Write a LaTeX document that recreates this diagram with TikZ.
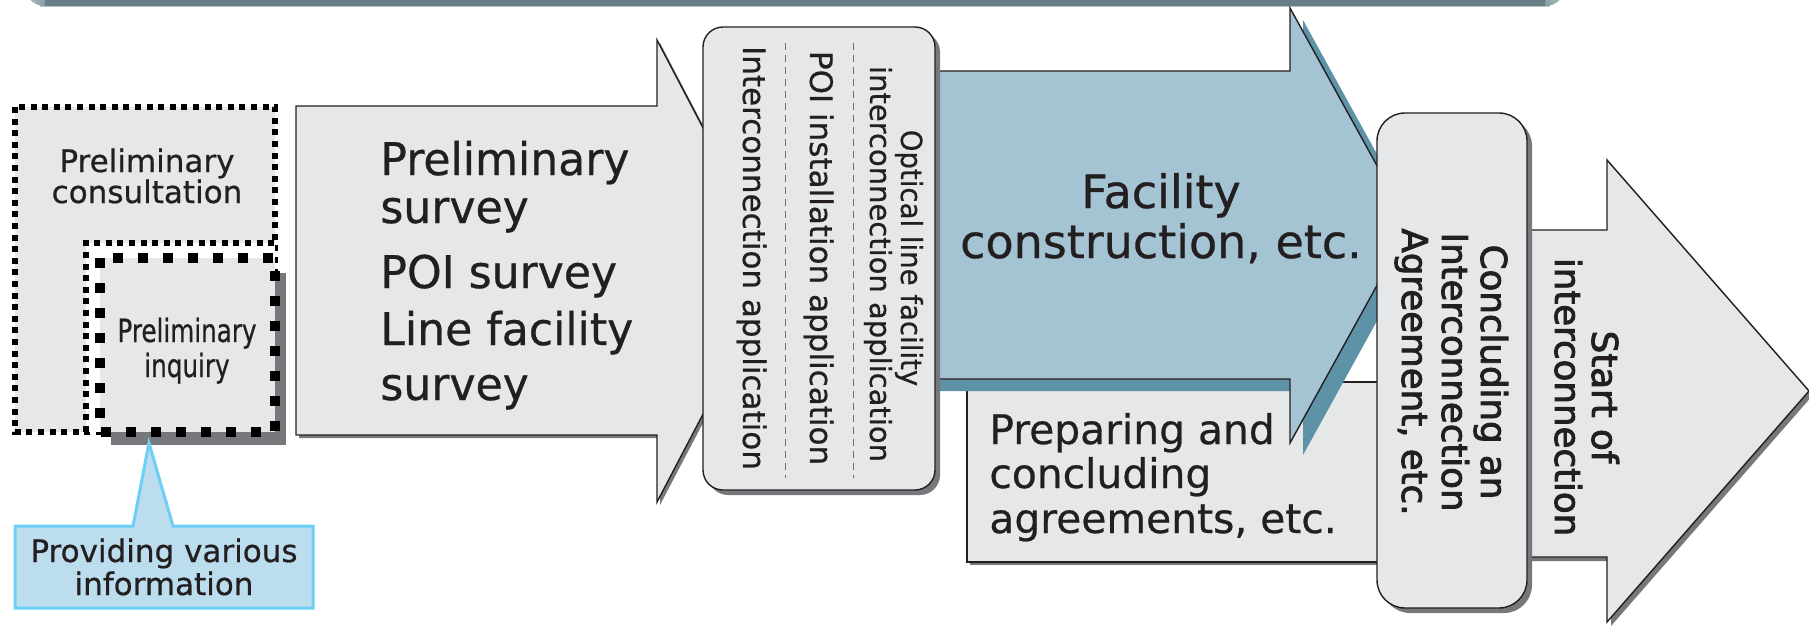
\documentclass[tikz,border=0pt]{standalone}
\usepackage{fontspec}
\setmainfont[FakeBold=0.6]{DejaVu Sans}
\newfontfamily\inqfont[FakeStretch=0.77,FakeBold=0.6]{DejaVu Sans}
\newfontfamily\survfont[FakeStretch=0.98,FakeBold=0.6]{DejaVu Sans}
\newfontfamily\optfont[FakeStretch=0.95,FakeBold=0.6]{DejaVu Sans}
\newfontfamily\semifont[FakeBold=2.5]{DejaVu Sans}
\definecolor{boxgray}{HTML}{E6E7E8}
\definecolor{olc}{HTML}{231F20}
\definecolor{shgray}{HTML}{77787B}
\definecolor{bluefill}{HTML}{A4C3D3}
\definecolor{blueshadow}{HTML}{5D92A7}
\definecolor{banner}{HTML}{687F86}
\definecolor{bannerlight}{HTML}{B3C6CB}
\definecolor{callfill}{HTML}{BCDDED}
\definecolor{callline}{HTML}{6DCFF6}
\definecolor{sepc}{HTML}{6D6E71}
\tikzset{
  txt/.style={inner sep=0pt, text=olc},
  outl/.style={draw=olc, line width=0.7pt, line join=miter},
  smalldots/.style={draw=black, line width=3pt, dash pattern=on 3pt off 2.8pt},
  bigdots/.style={draw=black, line width=5pt, dash pattern=on 5pt off 7.5pt},
  sepline/.style={draw=sepc, line width=0.5pt, dash pattern=on 3.5pt off 2.5pt},
  callout/.style={draw=callline, fill=callfill, line width=1.5pt, line join=miter},
}
\begin{document}
\begin{tikzpicture}[x=0.5pt,y=-0.5pt]
\useasboundingbox (0,0) rectangle (1809,627);
% banner
\fill[banner, rounded corners=10pt] (25,-40) rectangle (1565,6);
\shade[left color=bannerlight, right color=banner, rounded corners=10pt] (25,-40) rectangle (60,6);
\shade[left color=banner, right color=bannerlight, rounded corners=10pt] (1530,-40) rectangle (1565,6);
\fill[banner] (45,-40) rectangle (1545,6);
\draw[bannerlight, line width=0.8pt] (40,6.5) -- (1550,6.5);
% preliminary consultation
\fill[boxgray] (15,107) rectangle (275,432);
\path[smalldots] (15,107) rectangle (275,432);
\fill[white] (86,243) rectangle (275,432);
\path[smalldots] (86,432) -- (86,243) -- (275,243);
% preliminary inquiry
\fill[shgray] (111,273) rectangle (286,445);
\fill[boxgray] (100,258) rectangle (275,432);
\path[bigdots] (100,258) rectangle (275,432);
\node[txt, font=\fontsize{15.5}{18}\selectfont, anchor=base] (cons1) at (147,172) {Preliminary};
\node[txt, font=\fontsize{15.5}{18}\selectfont, anchor=base] (cons2) at (147,203) {consultation};
\node[txt, font=\inqfont\fontsize{16}{18}\selectfont, anchor=base] (inq1) at (187,342) {Preliminary};
\node[txt, font=\inqfont\fontsize{16}{18}\selectfont, anchor=base] (inq2) at (187,377) {inquiry};
% callout
\draw[callout] (15,526) -- (133,526) -- (149,443) -- (173,526) -- (313,526) -- (313,608) -- (15,608) -- cycle;
\node[txt, font=\fontsize{15.5}{18}\selectfont, anchor=base] (info1) at (164,562) {Providing various};
\node[txt, font=\fontsize{15.5}{18}\selectfont, anchor=base] (info2) at (164,595) {information};
% arrow 1
\fill[shgray] (299,109) -- (660,109) -- (660,43) -- (781,274) -- (660,505) -- (660,438) -- (299,438) -- cycle;
\filldraw[fill=boxgray, outl] (296,106) -- (657,106) -- (657,40) -- (778,271) -- (657,502) -- (657,435) -- (296,435) -- cycle;
\node[txt, font=\survfont\fontsize{22.5}{25}\selectfont, anchor=base west] (sv1) at (380,175) {Preliminary};
\node[txt, font=\survfont\fontsize{22.5}{25}\selectfont, anchor=base west] (sv2) at (380,223) {survey};
\node[txt, font=\survfont\fontsize{22.5}{25}\selectfont, anchor=base west] (sv3) at (380,288) {POI survey};
\node[txt, font=\survfont\fontsize{22.5}{25}\selectfont, anchor=base west] (sv4) at (380,345) {Line facility};
\node[txt, font=\survfont\fontsize{22.5}{25}\selectfont, anchor=base west] (sv5) at (380,400) {survey};
% preparing box
\fill[shgray] (970,385) rectangle (1450,565);
\filldraw[fill=boxgray, outl] (967,382) rectangle (1450,562);
\node[txt, font=\fontsize{20.4}{23}\selectfont, anchor=base west] (pr1) at (989,444) {Preparing and};
\node[txt, font=\fontsize{20.4}{23}\selectfont, anchor=base west] (pr2) at (989,488) {concluding};
\node[txt, font=\fontsize{20.4}{23}\selectfont, anchor=base west] (pr3) at (989,533) {agreements, etc.};
% blue arrow
\fill[blueshadow] (913,83) -- (1303,83) -- (1303,20) -- (1423,237.5) -- (1303,455) -- (1303,391) -- (913,391) -- cycle;
\filldraw[fill=bluefill, outl] (900,71) -- (1290,71) -- (1290,8) -- (1410,225.5) -- (1290,443) -- (1290,379) -- (900,379) -- cycle;
\node[txt, font=\fontsize{23}{26}\selectfont, anchor=base] (fc1) at (1161,208) {Facility};
\node[txt, font=\fontsize{23}{26}\selectfont, anchor=base] (fc2) at (1161,258) {construction, etc.};
% applications box
\fill[shgray, rounded corners=10pt] (708,32) rectangle (940,495);
\filldraw[fill=boxgray, outl, rounded corners=10pt] (703,27) rectangle (935,490);
\draw[sepline] (853,43) -- (853,478);
\draw[sepline] (785,43) -- (785,478);
\node[txt, font=\optfont\fontsize{14.5}{17}\selectfont, anchor=base, rotate=-90] (ap1) at (901,258) {Optical line facility};
\node[txt, font=\fontsize{14.5}{17}\selectfont, anchor=base, rotate=-90] (ap2) at (870,264) {interconnection application};
\node[txt, font=\fontsize{15.5}{18}\selectfont, anchor=base, rotate=-90] (ap3) at (810,258) {POI installation application};
\node[txt, font=\fontsize{15.5}{18}\selectfont, anchor=base, rotate=-90] (ap4) at (743,258) {Interconnection application};
% start arrow
\fill[shgray] (1504,234) -- (1611,234) -- (1611,164) -- (1813,395) -- (1611,626) -- (1611,561) -- (1504,561) -- cycle;
\filldraw[fill=boxgray, outl] (1500,230) -- (1607,230) -- (1607,160) -- (1809,391) -- (1607,622) -- (1607,557) -- (1500,557) -- cycle;
\node[txt, font=\semifont\fontsize{17.8}{21}\selectfont, anchor=base, rotate=-90] (st1) at (1592,397) {Start of};
\node[txt, font=\semifont\fontsize{17.8}{21}\selectfont, anchor=base, rotate=-90] (st2) at (1555,397) {interconnection};
% concluding box
\fill[shgray, rounded corners=14pt] (1382,118) rectangle (1532,613);
\filldraw[fill=boxgray, outl, rounded corners=14pt] (1377,113) rectangle (1527,608);
\node[txt, font=\semifont\fontsize{17.8}{21}\selectfont, anchor=base, rotate=-90] (cc1) at (1481,372) {Concluding an};
\node[txt, font=\semifont\fontsize{17.8}{21}\selectfont, anchor=base, rotate=-90] (cc2) at (1442,372) {Interconnection};
\node[txt, font=\semifont\fontsize{17.8}{21}\selectfont, anchor=base, rotate=-90] (cc3) at (1402,372) {Agreement, etc.};
\end{tikzpicture}
\end{document}
